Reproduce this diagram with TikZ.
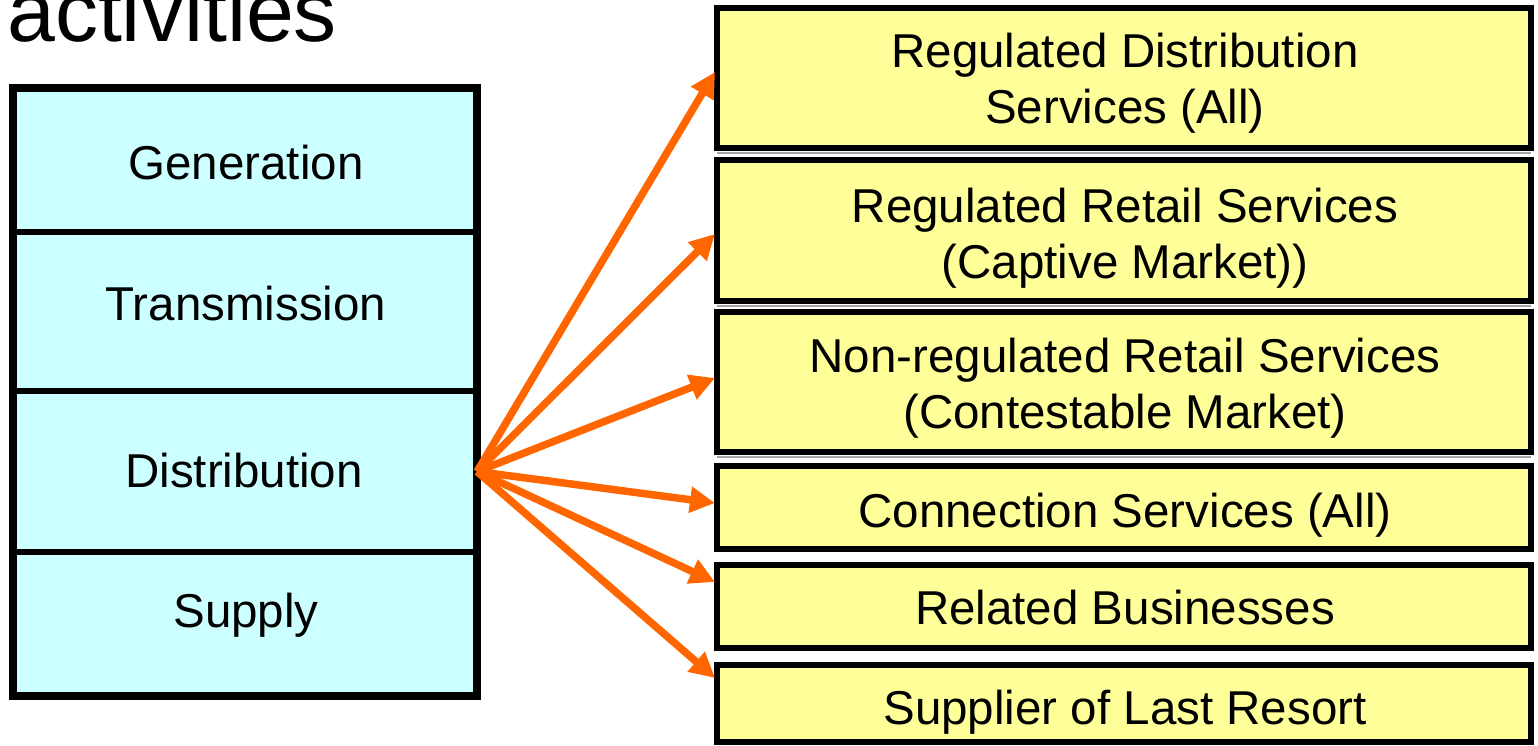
\documentclass[tikz,border=0pt]{standalone}
\usepackage{fontspec}
\setmainfont{Liberation Sans}
\usetikzlibrary{arrows.meta}
\definecolor{cellcyan}{HTML}{CCFFFF}
\definecolor{boxyellow}{HTML}{FFFF99}
\definecolor{arroworange}{HTML}{FF6600}
\begin{document}
\begin{tikzpicture}[x=1pt,y=-1pt,
  cell/.style={draw=black, line width=6pt, fill=cellcyan, minimum width=464pt, inner sep=0pt, outer sep=0pt},
  rbox/.style={draw=black, line width=6pt, fill=boxyellow, minimum width=814pt, inner sep=0pt, outer sep=0pt},
  lbl/.style={font=\fontsize{47.5}{56}\selectfont, inner sep=0pt, anchor=base},
  mlbl/.style={font=\fontsize{47.5}{56}\selectfont, inner sep=0pt, anchor=north, align=center},
  fan/.style={draw=arroworange, line width=7.5pt, -{Triangle[length=25pt,width=25pt]}},
  shadeline/.style={draw=black!35, line width=2pt}
]
\useasboundingbox (0,0) rectangle (1538,745);

% title (partly cut off, as in the reference)
\node[font=\fontsize{86}{92}\selectfont, inner sep=0pt, anchor=base west] (title) at (7,41) {activities};

% left column
\node[cell, minimum height=144.5pt] (gen) at (245,159.75) {};
\node[cell, minimum height=159pt] (trans) at (245,311.5) {};
\node[cell, minimum height=161pt] (dist) at (245,471.5) {};
\node[cell, minimum height=143.5pt] (sup) at (245,623.75) {};
\draw[line width=8pt] (gen.north west) rectangle (sup.south east);

\node[lbl] (genlbl) at (246,179) {Generation};
\node[lbl] (translbl) at (246,320) {Transmission};
\node[lbl] (distlbl) at (244,487) {Distribution};
\node[lbl] (suplbl) at (246,627) {Supply};

% right column
\node[rbox, minimum height=140.5pt] (r1) at (1124,77.75) {};
\node[rbox, minimum height=141pt] (r2) at (1124,230.5) {};
\node[rbox, minimum height=140pt] (r3) at (1124,382) {};
\node[rbox, minimum height=83pt] (r4) at (1124,507.5) {};
\node[rbox, minimum height=83pt] (r5) at (1124,606.5) {};
\node[rbox, minimum height=77pt] (r6) at (1124,703.5) {};

\draw[shadeline] ([yshift=-4.5pt]r1.south west) -- ([yshift=-4.5pt]r1.south east);
\draw[shadeline] ([yshift=-4.5pt]r2.south west) -- ([yshift=-4.5pt]r2.south east);
\draw[shadeline] ([yshift=-4.5pt]r3.south west) -- ([yshift=-4.5pt]r3.south east);

\node[mlbl] (r1lbl) at (1125,33) {Regulated Distribution\\Services (All)};
\node[mlbl] (r2lbl) at (1125,188) {Regulated Retail Services\\(Captive Market))};
\node[mlbl] (r3lbl) at (1125,338) {Non-regulated Retail Services\\(Contestable Market)};
\node[lbl] (r4lbl) at (1125,527) {Connection Services (All)};
\node[lbl] (r5lbl) at (1125,624) {Related Businesses};
\node[lbl] (r6lbl) at (1125,724) {Supplier of Last Resort};

% arrows
\draw[fan] (dist.east) -- ([xshift=-2pt,yshift=5.75pt]r1.west);
\draw[fan] (dist.east) -- ([xshift=-2pt,yshift=-3.5pt]r2.west);
\draw[fan] (dist.east) -- ([xshift=-2pt,yshift=4pt]r3.west);
\draw[fan] (dist.east) -- ([xshift=-2pt,yshift=4.5pt]r4.west);
\draw[fan] (dist.east) -- ([xshift=-2pt,yshift=24.5pt]r5.west);
\draw[fan] (dist.east) -- ([xshift=-2pt,yshift=25.5pt]r6.west);
\end{tikzpicture}
\end{document}
